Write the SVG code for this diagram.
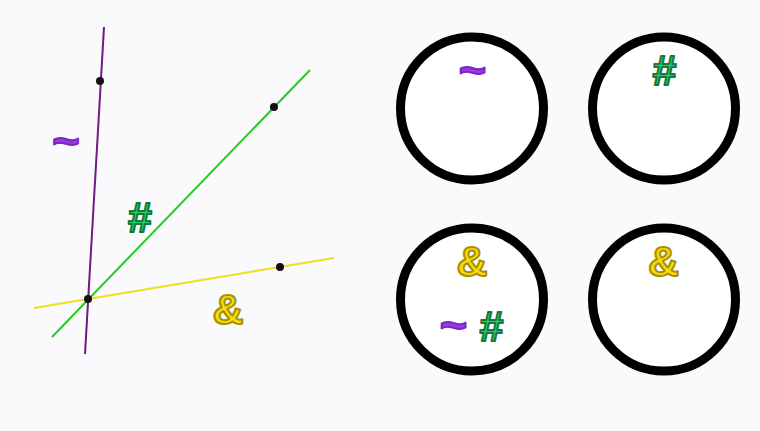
<svg xmlns="http://www.w3.org/2000/svg" width="760" height="431" viewBox="0 0 760 431">
<style>
.sym{font-family:"Liberation Sans",Arial,sans-serif;font-weight:bold;text-anchor:middle;stroke-width:2;stroke-linejoin:round}
.tilde{fill:#9d35e8;stroke:#7a28c0;font-size:47px}
.hash{fill:#22d066;stroke:#137a3c;font-size:43px}
.amp{fill:#f6dc10;stroke:#a89000;font-size:43px}
.ring{fill:#ffffff;stroke:#000;stroke-width:9}
.dot{fill:#111}
</style>
<rect width="760" height="431" fill="#fafafd"/>
<g id="connectors">
<line x1="104" y1="27" x2="85" y2="354" stroke="#6e1a80" stroke-width="2"/>
<line x1="52" y1="337" x2="310" y2="70" stroke="#22cc22" stroke-width="2"/>
<line x1="34" y1="308" x2="334" y2="258" stroke="#f2dc20" stroke-width="2"/>
</g>
<g id="points">
<circle class="dot" cx="100" cy="81" r="4"/>
<circle class="dot" cx="274" cy="107" r="4"/>
<circle class="dot" cx="280" cy="267" r="4"/>
<circle class="dot" cx="88" cy="299" r="4"/>
</g>
<g id="line-labels">
<text class="sym tilde" x="66" y="157">~</text>
<text class="sym hash" x="140" y="232">#</text>
<text class="sym amp" x="228" y="324">&amp;</text>
</g>
<g id="circle-tl">
<circle class="ring" cx="472" cy="108.5" r="71.5"/>
<text class="sym tilde" x="472.5" y="85.5">~</text>
</g>
<g id="circle-tr">
<circle class="ring" cx="664" cy="108.5" r="71.5"/>
<text class="sym hash" x="664.5" y="85">#</text>
</g>
<g id="circle-bl">
<circle class="ring" cx="472" cy="299.5" r="71.5"/>
<text class="sym amp" x="472" y="276">&amp;</text>
<text class="sym tilde" x="453.5" y="341">~</text>
<text class="sym hash" x="491.5" y="341">#</text>
</g>
<g id="circle-br">
<circle class="ring" cx="664" cy="299.5" r="71.5"/>
<text class="sym amp" x="663.5" y="276">&amp;</text>
</g>
</svg>
